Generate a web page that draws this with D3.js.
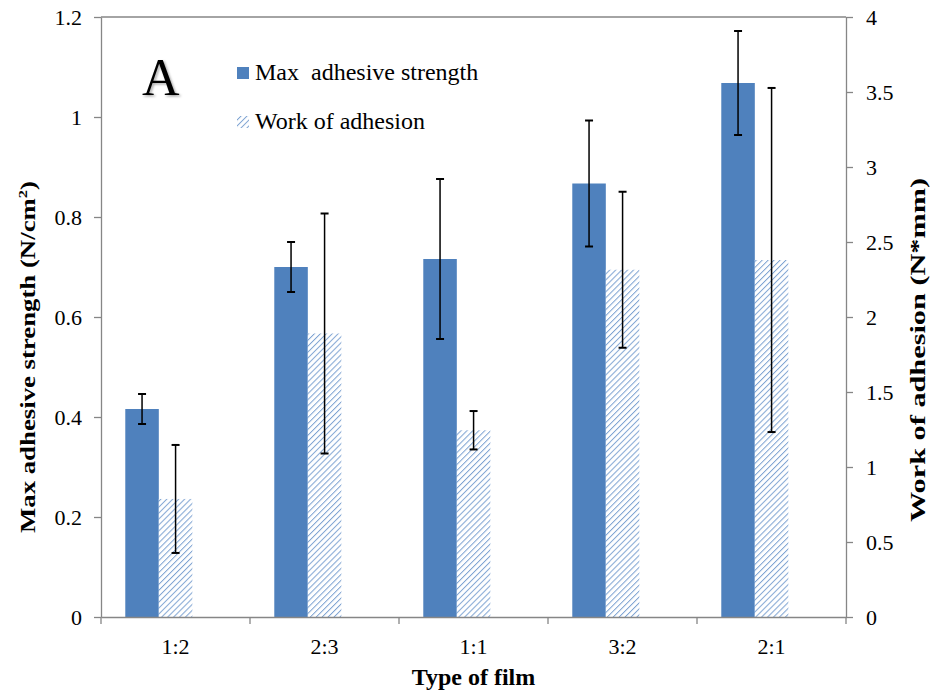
<!DOCTYPE html>
<html>
<head>
<meta charset="utf-8">
<script src="https://cdn.jsdelivr.net/npm/d3@7"></script>
<style>
  html, body { margin: 0; padding: 0; background: #fff; }
  svg { display: block; }
  text { font-family: "Liberation Serif", "Times New Roman", serif; fill: #000; }
</style>
</head>
<body>
<svg id="chart" width="938" height="694"></svg>
<script>
// ---- data ----
const categories = ["1:2", "2:3", "1:1", "3:2", "2:1"];
const maxStrength = [0.416, 0.700, 0.716, 0.867, 1.068];      // N/cm2 (left axis)
const maxStrengthErr = [0.030, 0.050, 0.160, 0.126, 0.104];
const workAdhesion = [0.787, 1.890, 1.245, 2.315, 2.380];     // N*mm (right axis)
const workAdhesionErr = [0.360, 0.800, 0.128, 0.520, 1.147];
const leftTicks = [0, 0.2, 0.4, 0.6, 0.8, 1, 1.2];
const rightTicks = [0, 0.5, 1, 1.5, 2, 2.5, 3, 3.5, 4];
const seriesNames = ["Max  adhesive strength", "Work of adhesion"];

const svg = d3.select("#chart");
const L = 101, R = 846, T = 17, B = 617;
const axisColor = "#868686";
const blue = "#4F81BD";

const defs = svg.append("defs");
const pat = defs.append("pattern")
  .attr("id", "hatch").attr("patternUnits", "userSpaceOnUse")
  .attr("width", 4.2).attr("height", 4.2)
  .attr("patternTransform", "rotate(45)");
pat.append("rect").attr("width", 4.2).attr("height", 4.2).attr("fill", "#fff");
pat.append("line").attr("x1", 0).attr("y1", 0).attr("x2", 0).attr("y2", 4.2)
  .attr("stroke", "#7ea3d2").attr("stroke-width", 2);
const sh = defs.append("filter").attr("id", "shadow")
  .attr("x", "-20%").attr("y", "-20%").attr("width", "150%").attr("height", "150%");
sh.append("feDropShadow").attr("dx", 1.5).attr("dy", 1.5).attr("stdDeviation", 1)
  .attr("flood-color", "#000").attr("flood-opacity", 0.35);

const x = d3.scaleBand().domain(categories).range([L, R]).padding(0);
const bw = x.bandwidth();
const sub = d3.scaleBand().domain(["max", "work"]).range([0.163 * bw, 0.613 * bw]).padding(0);
const yL = d3.scaleLinear().domain([0, 1.2]).range([B, T]);
const yR = d3.scaleLinear().domain([0, 4]).range([B, T]);

// top border line
svg.append("line").attr("x1", L).attr("x2", R).attr("y1", T).attr("y2", T)
  .attr("stroke", axisColor).attr("stroke-width", 1.3);

// bars
const data = categories.map((c, i) => ({ c, m: maxStrength[i], me: maxStrengthErr[i], w: workAdhesion[i], we: workAdhesionErr[i] }));
svg.append("g").selectAll("rect").data(data).join("rect")
  .attr("x", d => x(d.c) + sub("max")).attr("width", sub.bandwidth())
  .attr("y", d => yL(d.m)).attr("height", d => B - yL(d.m))
  .attr("fill", blue);
svg.append("g").selectAll("rect").data(data).join("rect")
  .attr("x", d => x(d.c) + sub("work")).attr("width", sub.bandwidth())
  .attr("y", d => yR(d.w)).attr("height", d => B - yR(d.w))
  .attr("fill", "url(#hatch)");

// error bars
function errBars(getX, getLo, getHi) {
  const g = svg.append("g").attr("stroke", "#000").attr("stroke-width", 1.5);
  g.selectAll(".v").data(data).join("line")
    .attr("x1", getX).attr("x2", getX).attr("y1", getLo).attr("y2", getHi);
  g.selectAll(".t").data(data).join("line")
    .attr("x1", d => getX(d) - 4).attr("x2", d => getX(d) + 4).attr("y1", getHi).attr("y2", getHi).attr("stroke-width", 2);
  g.selectAll(".b").data(data).join("line")
    .attr("x1", d => getX(d) - 4).attr("x2", d => getX(d) + 4).attr("y1", getLo).attr("y2", getLo).attr("stroke-width", 2);
}
errBars(d => x(d.c) + sub("max") + sub.bandwidth() / 2, d => yL(d.m - d.me), d => yL(d.m + d.me));
errBars(d => x(d.c) + sub("work") + sub.bandwidth() / 2, d => yR(d.w - d.we), d => yR(d.w + d.we));

// axes
function styleAxis(g) {
  g.select(".domain").attr("stroke", axisColor).attr("stroke-width", 1.3);
  g.selectAll(".tick line").attr("stroke", axisColor).attr("stroke-width", 1.3);
  g.selectAll(".tick text").attr("font-family", "Liberation Serif").attr("font-size", 22).attr("fill", "#000");
}
const gL = svg.append("g").attr("transform", `translate(${L},0)`)
  .call(d3.axisLeft(yL).tickValues(leftTicks).tickSize(7).tickSizeOuter(0).tickPadding(12).tickFormat(d => String(d)));
styleAxis(gL);
const gR = svg.append("g").attr("transform", `translate(${R},0)`)
  .call(d3.axisRight(yR).tickValues(rightTicks).tickSize(7).tickSizeOuter(0).tickPadding(13).tickFormat(d => String(d)));
styleAxis(gR);
const gX = svg.append("g").attr("transform", `translate(0,${B})`)
  .call(d3.axisBottom(x).tickSize(0).tickSizeOuter(0).tickPadding(21));
styleAxis(gX);
// boundary ticks between categories
const bounds = categories.map(c => x(c)).concat([R]);
gX.selectAll(".bt").data(bounds).join("line")
  .attr("x1", d => d).attr("x2", d => d).attr("y1", 0).attr("y2", 7)
  .attr("stroke", axisColor).attr("stroke-width", 1.3);

// axis titles
svg.append("text").attr("transform", "translate(35,357) rotate(-90)")
  .attr("text-anchor", "middle").attr("font-weight", "bold").attr("font-size", 21)
  .attr("textLength", 352).attr("lengthAdjust", "spacingAndGlyphs")
  .html('Max adhesive strength (N/cm<tspan font-size="13" dy="-8">2</tspan><tspan dy="8">)</tspan>');
svg.append("text").attr("transform", "translate(925,350) rotate(-90)")
  .attr("text-anchor", "middle").attr("font-weight", "bold").attr("font-size", 21)
  .attr("textLength", 344).attr("lengthAdjust", "spacingAndGlyphs")
  .text("Work of adhesion (N*mm)");
svg.append("text").attr("x", (L + R) / 2).attr("y", 685)
  .attr("text-anchor", "middle").attr("font-weight", "bold").attr("font-size", 24)
  .text("Type of film");

// panel label
svg.append("text").attr("x", 142).attr("y", 95).attr("font-size", 52)
  .attr("filter", "url(#shadow)").text("A");

// legend
const leg = svg.append("g");
leg.append("rect").attr("x", 237).attr("y", 67).attr("width", 12).attr("height", 12).attr("fill", blue);
leg.append("rect").attr("x", 237).attr("y", 116).attr("width", 12).attr("height", 12).attr("fill", "url(#hatch)");
leg.append("text").attr("x", 255).attr("y", 80).attr("font-size", 24).style("white-space", "pre").text(seriesNames[0]);
leg.append("text").attr("x", 255).attr("y", 129).attr("font-size", 24).text(seriesNames[1]);
</script>
</body>
</html>
